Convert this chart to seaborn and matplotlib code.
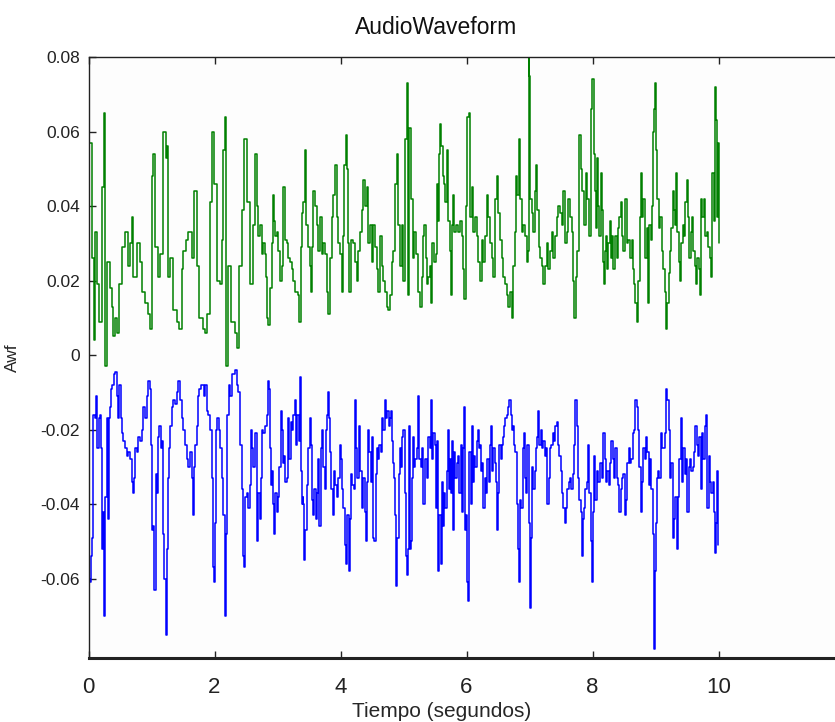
import matplotlib
matplotlib.use("Agg")
import matplotlib.pyplot as plt
import numpy as np
import pandas as pd
import seaborn as sns

# Upper envelope of the waveform (seconds, amplitude)
green_t = [0.000, 0.013, 0.050, 0.087, 0.103, 0.140, 0.172, 0.209, 0.246, 0.262,
           0.299, 0.341, 0.368, 0.394, 0.421, 0.447, 0.489, 0.526, 0.579, 0.632,
           0.658, 0.685, 0.711, 0.764, 0.817, 0.844, 0.897, 0.950, 0.976, 1.002,
           1.018, 1.055, 1.108, 1.135, 1.188, 1.230, 1.251, 1.267, 1.293, 1.346,
           1.399, 1.441, 1.478, 1.505, 1.547, 1.584, 1.637, 1.674, 1.716, 1.759,
           1.812, 1.849, 1.886, 1.928, 1.960, 1.992, 2.034, 2.087, 2.113, 2.140,
           2.161, 2.182, 2.219, 2.256, 2.325, 2.351, 2.394, 2.431, 2.473, 2.510,
           2.563, 2.616, 2.642, 2.669, 2.695, 2.722, 2.748, 2.775, 2.801, 2.817,
           2.838, 2.854, 2.880, 2.907, 2.923, 2.944, 2.960, 2.986, 3.013, 3.039,
           3.066, 3.092, 3.118, 3.145, 3.171, 3.198, 3.224, 3.251, 3.277, 3.304,
           3.330, 3.346, 3.367, 3.383, 3.409, 3.436, 3.452, 3.489, 3.515, 3.531,
           3.547, 3.568, 3.595, 3.621, 3.647, 3.674, 3.700, 3.727, 3.753, 3.780,
           3.806, 3.833, 3.859, 3.886, 3.912, 3.938, 3.965, 3.991, 4.018, 4.044,
           4.060, 4.081, 4.097, 4.124, 4.139, 4.161, 4.203, 4.229, 4.256, 4.282,
           4.309, 4.335, 4.362, 4.388, 4.415, 4.441, 4.467, 4.494, 4.520, 4.547,
           4.573, 4.600, 4.626, 4.653, 4.679, 4.705, 4.732, 4.758, 4.785, 4.811,
           4.838, 4.864, 4.891, 4.917, 4.944, 4.970, 4.996, 5.023, 5.049, 5.076,
           5.092, 5.113, 5.145, 5.166, 5.197, 5.235, 5.261, 5.288, 5.315, 5.331,
           5.352, 5.368, 5.394, 5.421, 5.437, 5.458, 5.484, 5.511, 5.527, 5.553,
           5.569, 5.585, 5.601, 5.622, 5.643, 5.659, 5.685, 5.712, 5.738, 5.754,
           5.770, 5.791, 5.807, 5.833, 5.860, 5.897, 5.923, 5.950, 5.966, 5.987,
           6.013, 6.034, 6.056, 6.082, 6.108, 6.135, 6.161, 6.188, 6.214, 6.241,
           6.267, 6.294, 6.320, 6.346, 6.373, 6.399, 6.426, 6.452, 6.479, 6.505,
           6.532, 6.558, 6.585, 6.611, 6.637, 6.664, 6.690, 6.717, 6.743, 6.770,
           6.786, 6.807, 6.828, 6.849, 6.875, 6.902, 6.928, 6.955, 6.971, 6.987,
           6.997, 7.013, 7.034, 7.061, 7.087, 7.103, 7.124, 7.145, 7.166, 7.193,
           7.219, 7.246, 7.272, 7.299, 7.325, 7.352, 7.378, 7.404, 7.431, 7.457,
           7.484, 7.510, 7.537, 7.563, 7.590, 7.616, 7.643, 7.669, 7.695, 7.711,
           7.738, 7.759, 7.785, 7.812, 7.838, 7.865, 7.891, 7.918, 7.944, 7.971,
           7.992, 8.023, 8.039, 8.055, 8.076, 8.092, 8.108, 8.129, 8.150, 8.161,
           8.182, 8.198, 8.214, 8.235, 8.251, 8.277, 8.293, 8.309, 8.330, 8.357,
           8.383, 8.410, 8.426, 8.447, 8.463, 8.489, 8.515, 8.542, 8.568, 8.595,
           8.621, 8.637, 8.658, 8.674, 8.701, 8.727, 8.754, 8.769, 8.791, 8.806,
           8.833, 8.859, 8.886, 8.902, 8.923, 8.939, 8.955, 8.976, 8.992, 9.007,
           9.029, 9.050, 9.071, 9.097, 9.124, 9.150, 9.166, 9.187, 9.208, 9.230,
           9.251, 9.272, 9.293, 9.314, 9.330, 9.346, 9.367, 9.388, 9.409, 9.431,
           9.452, 9.473, 9.494, 9.515, 9.536, 9.558, 9.579, 9.600, 9.621, 9.642,
           9.663, 9.685, 9.706, 9.722, 9.743, 9.764, 9.785, 9.812, 9.838, 9.864,
           9.886, 9.901, 9.923, 9.944, 9.960, 9.976, 9.991, 10.002]
green_v = [0.050, 0.057, 0.026, 0.004, 0.033, 0.019, 0.009, 0.045, 0.065, -0.003,
           0.025, 0.018, 0.013, 0.005, 0.010, 0.006, 0.019, 0.029, 0.033, 0.024,
           0.030, 0.037, 0.021, 0.030, 0.025, 0.017, 0.014, 0.011, 0.007, 0.048,
           0.054, 0.029, 0.021, 0.027, 0.060, 0.053, 0.056, 0.021, 0.026, 0.012,
           0.009, 0.007, 0.023, 0.028, 0.031, 0.033, 0.026, 0.044, 0.024, 0.010,
           0.007, 0.006, 0.011, 0.041, 0.060, 0.046, 0.020, 0.019, 0.031, 0.055,
           0.064, -0.003, 0.024, 0.009, 0.006, 0.002, 0.024, 0.039, 0.058, 0.041,
           0.019, 0.035, 0.054, 0.040, 0.032, 0.035, 0.027, 0.030, 0.027, 0.021,
           0.010, 0.008, 0.018, 0.030, 0.043, 0.036, 0.032, 0.033, 0.028, 0.020,
           0.024, 0.045, 0.031, 0.030, 0.026, 0.025, 0.023, 0.020, 0.017, 0.017,
           0.016, 0.009, 0.029, 0.038, 0.041, 0.055, 0.035, 0.029, 0.024, 0.017,
           0.029, 0.044, 0.040, 0.035, 0.028, 0.037, 0.027, 0.030, 0.027, 0.017,
           0.011, 0.026, 0.037, 0.043, 0.051, 0.037, 0.030, 0.027, 0.017, 0.032,
           0.051, 0.059, 0.050, 0.030, 0.017, 0.031, 0.030, 0.025, 0.020, 0.028,
           0.033, 0.039, 0.047, 0.040, 0.045, 0.030, 0.035, 0.025, 0.035, 0.029,
           0.023, 0.017, 0.032, 0.024, 0.020, 0.017, 0.013, 0.012, 0.016, 0.025,
           0.028, 0.046, 0.054, 0.035, 0.024, 0.035, 0.020, 0.058, 0.073, 0.016,
           0.061, 0.042, 0.026, 0.033, 0.027, 0.017, 0.013, 0.021, 0.032, 0.035,
           0.026, 0.019, 0.021, 0.024, 0.014, 0.030, 0.025, 0.027, 0.046, 0.036,
           0.054, 0.062, 0.056, 0.048, 0.046, 0.041, 0.055, 0.036, 0.028, 0.016,
           0.035, 0.043, 0.033, 0.035, 0.033, 0.036, 0.032, 0.023, 0.015, 0.040,
           0.064, 0.065, 0.037, 0.045, 0.033, 0.037, 0.032, 0.025, 0.020, 0.031,
           0.025, 0.032, 0.043, 0.037, 0.030, 0.026, 0.021, 0.042, 0.048, 0.038,
           0.031, 0.026, 0.021, 0.019, 0.016, 0.013, 0.017, 0.010, 0.024, 0.033,
           0.048, 0.043, 0.058, 0.042, 0.033, 0.035, 0.032, 0.025, 0.028, 0.080,
           0.075, 0.042, 0.038, 0.033, 0.044, 0.051, 0.039, 0.029, 0.026, 0.024,
           0.019, 0.024, 0.030, 0.023, 0.028, 0.033, 0.026, 0.032, 0.037, 0.040,
           0.038, 0.035, 0.044, 0.030, 0.033, 0.042, 0.037, 0.033, 0.020, 0.010,
           0.021, 0.028, 0.059, 0.050, 0.044, 0.035, 0.049, 0.042, 0.032, 0.066,
           0.074, 0.054, 0.044, 0.034, 0.053, 0.040, 0.032, 0.049, 0.039, 0.025,
           0.019, 0.028, 0.032, 0.023, 0.030, 0.036, 0.026, 0.032, 0.023, 0.032,
           0.026, 0.034, 0.037, 0.041, 0.032, 0.028, 0.042, 0.030, 0.031, 0.026,
           0.031, 0.023, 0.019, 0.014, 0.009, 0.020, 0.037, 0.049, 0.037, 0.042,
           0.026, 0.034, 0.014, 0.035, 0.031, 0.040, 0.060, 0.066, 0.073, 0.055,
           0.042, 0.034, 0.037, 0.028, 0.023, 0.017, 0.007, 0.014, 0.022, 0.028,
           0.034, 0.044, 0.039, 0.035, 0.049, 0.033, 0.025, 0.020, 0.030, 0.035,
           0.032, 0.041, 0.047, 0.037, 0.026, 0.033, 0.037, 0.028, 0.024, 0.019,
           0.026, 0.023, 0.016, 0.042, 0.037, 0.042, 0.032, 0.033, 0.029, 0.026,
           0.021, 0.049, 0.036, 0.072, 0.063, 0.037, 0.057, 0.030]

# Lower envelope of the waveform (seconds, amplitude)
blue_t = [0.000, 0.012, 0.024, 0.040, 0.055, 0.066, 0.077, 0.103, 0.119, 0.140,
          0.161, 0.182, 0.198, 0.214, 0.235, 0.251, 0.267, 0.288, 0.304, 0.320,
          0.341, 0.357, 0.378, 0.405, 0.426, 0.447, 0.473, 0.489, 0.510, 0.532,
          0.553, 0.579, 0.606, 0.632, 0.659, 0.685, 0.701, 0.722, 0.743, 0.764,
          0.791, 0.817, 0.844, 0.870, 0.897, 0.923, 0.949, 0.976, 0.992, 1.013,
          1.029, 1.045, 1.066, 1.082, 1.103, 1.124, 1.145, 1.166, 1.188, 1.203,
          1.225, 1.240, 1.256, 1.277, 1.293, 1.320, 1.346, 1.373, 1.399, 1.426,
          1.452, 1.478, 1.505, 1.531, 1.558, 1.584, 1.611, 1.637, 1.653, 1.674,
          1.695, 1.717, 1.738, 1.759, 1.780, 1.812, 1.833, 1.854, 1.875, 1.902,
          1.928, 1.955, 1.970, 1.986, 2.002, 2.023, 2.044, 2.066, 2.087, 2.113,
          2.140, 2.166, 2.182, 2.203, 2.224, 2.246, 2.272, 2.298, 2.325, 2.351,
          2.378, 2.404, 2.431, 2.447, 2.468, 2.489, 2.510, 2.537, 2.563, 2.579,
          2.600, 2.616, 2.642, 2.669, 2.695, 2.722, 2.738, 2.753, 2.775, 2.801,
          2.828, 2.843, 2.865, 2.880, 2.896, 2.917, 2.933, 2.949, 2.965, 2.986,
          3.013, 3.029, 3.050, 3.066, 3.081, 3.103, 3.124, 3.145, 3.171, 3.187,
          3.208, 3.230, 3.251, 3.277, 3.293, 3.314, 3.335, 3.351, 3.367, 3.383,
          3.399, 3.409, 3.420, 3.436, 3.462, 3.489, 3.515, 3.531, 3.547, 3.568,
          3.584, 3.605, 3.621, 3.647, 3.663, 3.684, 3.706, 3.727, 3.753, 3.769,
          3.790, 3.806, 3.822, 3.833, 3.854, 3.875, 3.896, 3.917, 3.938, 3.965,
          3.991, 4.007, 4.028, 4.044, 4.065, 4.087, 4.108, 4.129, 4.150, 4.166,
          4.187, 4.208, 4.229, 4.245, 4.266, 4.288, 4.309, 4.335, 4.362, 4.383,
          4.399, 4.415, 4.436, 4.457, 4.478, 4.494, 4.515, 4.536, 4.557, 4.573,
          4.594, 4.616, 4.637, 4.658, 4.679, 4.700, 4.721, 4.742, 4.764, 4.785,
          4.806, 4.822, 4.838, 4.854, 4.869, 4.885, 4.901, 4.922, 4.944, 4.959,
          4.975, 4.996, 5.018, 5.033, 5.049, 5.070, 5.086, 5.102, 5.123, 5.139,
          5.155, 5.171, 5.187, 5.208, 5.229, 5.250, 5.271, 5.288, 5.315, 5.341,
          5.368, 5.394, 5.421, 5.437, 5.452, 5.474, 5.500, 5.516, 5.537, 5.553,
          5.569, 5.590, 5.606, 5.622, 5.643, 5.659, 5.685, 5.701, 5.717, 5.738,
          5.754, 5.770, 5.791, 5.807, 5.823, 5.844, 5.870, 5.886, 5.907, 5.923,
          5.939, 5.960, 5.976, 5.992, 6.013, 6.029, 6.045, 6.066, 6.082, 6.098,
          6.119, 6.140, 6.161, 6.177, 6.193, 6.214, 6.230, 6.246, 6.267, 6.288,
          6.309, 6.331, 6.352, 6.373, 6.389, 6.405, 6.426, 6.447, 6.468, 6.484,
          6.500, 6.521, 6.542, 6.558, 6.574, 6.595, 6.616, 6.637, 6.664, 6.680,
          6.701, 6.717, 6.733, 6.754, 6.775, 6.796, 6.812, 6.828, 6.849, 6.870,
          6.891, 6.912, 6.928, 6.944, 6.965, 6.987, 7.008, 7.024, 7.039, 7.061,
          7.082, 7.103, 7.124, 7.140, 7.156, 7.177, 7.198, 7.219, 7.240, 7.262,
          7.283, 7.304, 7.325, 7.346, 7.367, 7.389, 7.410, 7.431, 7.452, 7.473,
          7.494, 7.516, 7.537, 7.558, 7.579, 7.600, 7.621, 7.643, 7.664, 7.685,
          7.706, 7.727, 7.748, 7.769, 7.791, 7.812, 7.828, 7.844, 7.865, 7.886,
          7.907, 7.928, 7.949, 7.971, 7.992, 8.013, 8.023, 8.045, 8.066, 8.092,
          8.119, 8.145, 8.172, 8.193, 8.214, 8.235, 8.256, 8.277, 8.299, 8.320,
          8.341, 8.362, 8.383, 8.404, 8.426, 8.447, 8.468, 8.489, 8.510, 8.531,
          8.552, 8.574, 8.595, 8.616, 8.637, 8.658, 8.679, 8.701, 8.722, 8.743,
          8.764, 8.785, 8.806, 8.828, 8.849, 8.870, 8.891, 8.912, 8.933, 8.955,
          8.970, 8.986, 9.002, 9.018, 9.039, 9.060, 9.081, 9.103, 9.124, 9.145,
          9.166, 9.187, 9.208, 9.230, 9.251, 9.272, 9.293, 9.314, 9.335, 9.357,
          9.378, 9.399, 9.420, 9.441, 9.462, 9.483, 9.505, 9.526, 9.547, 9.568,
          9.589, 9.610, 9.632, 9.653, 9.674, 9.695, 9.716, 9.737, 9.759, 9.780,
          9.801, 9.822, 9.843, 9.864, 9.886, 9.907, 9.928, 9.944, 9.960, 9.976,
          9.991]
blue_v = [-0.035, -0.060, -0.061, -0.054, -0.049, -0.034, -0.016, -0.017, -0.011, -0.025,
          -0.017, -0.016, -0.025, -0.052, -0.042, -0.070, -0.038, -0.017, -0.044, -0.017,
          -0.014, -0.009, -0.008, -0.005, -0.0045, -0.011, -0.017, -0.008, -0.017, -0.021,
          -0.023, -0.025, -0.027, -0.026, -0.028, -0.034, -0.037, -0.033, -0.025, -0.026,
          -0.022, -0.023, -0.020, -0.014, -0.017, -0.011, -0.007, -0.009, -0.024, -0.047,
          -0.046, -0.063, -0.032, -0.037, -0.022, -0.019, -0.025, -0.023, -0.048, -0.060,
          -0.075, -0.052, -0.033, -0.025, -0.019, -0.014, -0.012, -0.013, -0.010, -0.007,
          -0.012, -0.017, -0.020, -0.024, -0.028, -0.030, -0.026, -0.033, -0.043, -0.030,
          -0.024, -0.019, -0.011, -0.009, -0.008, -0.008, -0.011, -0.008, -0.015, -0.016,
          -0.020, -0.033, -0.057, -0.061, -0.045, -0.020, -0.017, -0.020, -0.025, -0.033,
          -0.043, -0.070, -0.048, -0.016, -0.008, -0.011, -0.005, -0.005, -0.004, -0.008,
          -0.010, -0.024, -0.036, -0.054, -0.057, -0.038, -0.037, -0.041, -0.035, -0.020,
          -0.025, -0.030, -0.021, -0.050, -0.037, -0.044, -0.033, -0.020, -0.021, -0.019,
          -0.016, -0.007, -0.009, -0.025, -0.035, -0.031, -0.040, -0.048, -0.037, -0.042,
          -0.038, -0.030, -0.015, -0.020, -0.029, -0.027, -0.034, -0.033, -0.017, -0.028,
          -0.018, -0.020, -0.016, -0.012, -0.024, -0.016, -0.023, -0.006, -0.031, -0.040,
          -0.038, -0.040, -0.055, -0.047, -0.035, -0.025, -0.017, -0.024, -0.039, -0.043,
          -0.036, -0.044, -0.037, -0.028, -0.046, -0.025, -0.020, -0.030, -0.036, -0.020,
          -0.016, -0.010, -0.017, -0.026, -0.036, -0.043, -0.031, -0.035, -0.038, -0.033,
          -0.024, -0.028, -0.036, -0.041, -0.051, -0.056, -0.043, -0.058, -0.044, -0.032,
          -0.035, -0.036, -0.012, -0.025, -0.033, -0.019, -0.031, -0.041, -0.033, -0.042,
          -0.050, -0.034, -0.020, -0.026, -0.034, -0.022, -0.049, -0.050, -0.032, -0.025,
          -0.028, -0.024, -0.026, -0.017, -0.020, -0.012, -0.017, -0.015, -0.019, -0.017,
          -0.015, -0.023, -0.029, -0.033, -0.043, -0.062, -0.049, -0.032, -0.025, -0.030,
          -0.022, -0.020, -0.037, -0.054, -0.059, -0.052, -0.019, -0.052, -0.050, -0.033,
          -0.022, -0.030, -0.028, -0.025, -0.011, -0.028, -0.030, -0.025, -0.040, -0.028,
          -0.033, -0.022, -0.025, -0.012, -0.028, -0.021, -0.024, -0.041, -0.023, -0.058,
          -0.043, -0.056, -0.034, -0.046, -0.037, -0.041, -0.031, -0.020, -0.036, -0.028,
          -0.037, -0.023, -0.047, -0.026, -0.033, -0.029, -0.027, -0.037, -0.024, -0.042,
          -0.025, -0.014, -0.047, -0.043, -0.061, -0.066, -0.026, -0.040, -0.019, -0.034,
          -0.027, -0.030, -0.023, -0.020, -0.025, -0.024, -0.031, -0.029, -0.041, -0.033,
          -0.037, -0.028, -0.034, -0.024, -0.019, -0.031, -0.025, -0.029, -0.034, -0.047,
          -0.037, -0.024, -0.028, -0.024, -0.022, -0.019, -0.017, -0.016, -0.014, -0.012,
          -0.016, -0.020, -0.019, -0.024, -0.026, -0.040, -0.052, -0.061, -0.039, -0.041,
          -0.025, -0.021, -0.033, -0.037, -0.024, -0.045, -0.068, -0.049, -0.030, -0.036,
          -0.031, -0.025, -0.022, -0.015, -0.024, -0.020, -0.025, -0.023, -0.027, -0.025,
          -0.040, -0.033, -0.025, -0.024, -0.021, -0.023, -0.019, -0.018, -0.024, -0.027,
          -0.031, -0.037, -0.041, -0.045, -0.041, -0.036, -0.034, -0.033, -0.036, -0.032,
          -0.024, -0.012, -0.019, -0.033, -0.039, -0.042, -0.054, -0.044, -0.041, -0.036,
          -0.034, -0.024, -0.037, -0.050, -0.061, -0.042, -0.027, -0.039, -0.031, -0.034,
          -0.029, -0.033, -0.021, -0.028, -0.034, -0.031, -0.035, -0.029, -0.023, -0.028,
          -0.033, -0.025, -0.033, -0.035, -0.042, -0.036, -0.033, -0.032, -0.043, -0.039,
          -0.029, -0.025, -0.029, -0.028, -0.021, -0.020, -0.012, -0.014, -0.020, -0.030,
          -0.042, -0.034, -0.025, -0.028, -0.022, -0.026, -0.035, -0.028, -0.036, -0.048,
          -0.079, -0.058, -0.045, -0.033, -0.031, -0.033, -0.021, -0.025, -0.025, -0.021,
          -0.009, -0.012, -0.020, -0.033, -0.029, -0.049, -0.044, -0.038, -0.052, -0.038,
          -0.028, -0.017, -0.034, -0.025, -0.032, -0.028, -0.042, -0.030, -0.028, -0.031,
          -0.030, -0.026, -0.019, -0.024, -0.027, -0.022, -0.036, -0.021, -0.028, -0.019,
          -0.016, -0.041, -0.027, -0.034, -0.037, -0.034, -0.042, -0.053, -0.045, -0.031,
          -0.051]

x_ticks = [0, 2, 4, 6, 8, 10]
y_ticks = [-0.06, -0.04, -0.02, 0, 0.02, 0.04, 0.06, 0.08]
y_tick_labels = ["-0.06", "-0.04", "-0.02", "0", "0.02", "0.04", "0.06", "0.08"]

df = pd.concat([
    pd.DataFrame({"t": green_t, "awf": green_v, "serie": "max"}),
    pd.DataFrame({"t": blue_t, "awf": blue_v, "serie": "min"}),
], ignore_index=True)

sns.set_theme(style="ticks")
plt.rcParams["font.family"] = ["Liberation Sans", "DejaVu Sans"]

fig = plt.figure(figsize=(8.35, 7.22), dpi=100, facecolor="white")
# The axes run a little past the right edge of the canvas (x limit 12)
ax = fig.add_axes([88.5 / 835, 64 / 722, 756 / 835, 601 / 722])
ax.set_facecolor("#fdfdfd")

sns.lineplot(data=df, x="t", y="awf", hue="serie", units="serie",
             estimator=None, sort=False, legend=False,
             palette={"max": "#008000", "min": "#0000ff"},
             linewidth=1.1, drawstyle="steps-post", ax=ax)

ax.set_xlim(0, 12)
ax.set_ylim(-0.0813, 0.08)
ax.set_xticks(x_ticks)
ax.set_xticklabels([str(v) for v in x_ticks], fontsize=16)
ax.set_yticks(y_ticks)
ax.set_yticklabels(y_tick_labels, fontsize=12.5)

ax.tick_params(direction="in", length=5, width=1, top=True, right=False,
               colors="#222222")
ax.tick_params(axis="x", pad=14)
ax.tick_params(axis="y", pad=6)
for side in ("left", "top"):
    ax.spines[side].set_linewidth(1.0)
    ax.spines[side].set_color("#222222")
ax.spines["bottom"].set_linewidth(2.2)
ax.spines["bottom"].set_color("#222222")
ax.spines["right"].set_visible(False)

fig.text(436 / 835, 1 - 27 / 722, "AudioWaveform", fontsize=16.5,
         ha="center", va="center", color="#111111")
ax.set_xlabel("Tiempo (segundos)", fontsize=15, labelpad=-1)
ax.xaxis.set_label_coords((442 - 88.5) / 756, -0.0725)
ax.set_ylabel("Awf", fontsize=12.5)
ax.yaxis.set_label_coords((20 - 88.5) / 756, (658 - 358) / 601)

fig.savefig("out.png", dpi=100, facecolor="white")
